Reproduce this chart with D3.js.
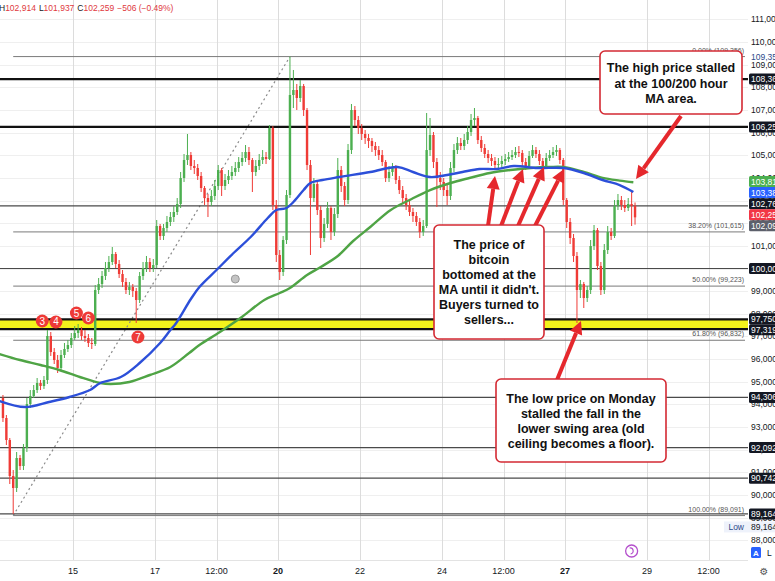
<!DOCTYPE html>
<html>
<head>
<meta charset="utf-8">
<script src="https://cdn.jsdelivr.net/npm/d3@7/dist/d3.min.js"></script>
<style>
  html, body { margin: 0; padding: 0; background: #fff; overflow: hidden; }
  svg { display: block; font-family: "Liberation Sans", Arial, sans-serif; }
</style>
</head>
<body>
<svg id="chart" width="775" height="581"></svg>
<script>
// ---------------- data: BTC/USD, 13–28 Jan 2025, 2-hour candles ----------------
const barStart = new Date(2025, 0, 13, 6);
const barHours = 2;
const firstOpen = 94282;

const closes = [
  93399, 92428, 90839, 90309, 91633, 91280, 92075, 94017, 94371, 94635,
  94945, 94812, 95077, 97020, 96313, 95960, 95607, 96181, 96446, 96622,
  96931, 97152, 97284, 97020, 96931, 96711, 96666, 99050, 99315, 99669,
  100022, 100287, 100640, 100198, 99757, 99404, 99050, 99183, 99006, 98609,
  99669, 100022, 100287, 100022, 100154, 101876, 101435, 101788, 102053, 102273,
  102494, 102847, 103995, 104790, 105011, 104525, 104437, 104084, 103554, 103112,
  102936, 103201, 103642, 104348, 103642, 103907, 104084, 104260, 104437, 104702,
  104878, 105143, 104790, 104260, 104525, 104790, 104922, 104834, 106203, 102803,
  100596, 99845, 101258, 103245, 107660, 107881, 107528, 108057, 106998, 104569,
  103112, 103730, 102582, 101346, 101964, 102671, 101611, 102406, 104348, 103642,
  103024, 105231, 106998, 106556, 106203, 105938, 105761, 105629, 105408, 105231,
  105011, 104702, 103995, 104260, 104437, 103907, 103465, 103112, 102803, 102494,
  102318, 102053, 101611, 101876, 105231, 105894, 104702, 103995, 103819, 103465,
  103201, 104437, 105231, 105541, 105408, 105673, 106026, 106556, 106644, 105673,
  105320, 105055, 104878, 104746, 104569, 104613, 104746, 104834, 104922, 105011,
  105143, 105099, 104702, 104525, 104967, 105231, 105055, 104746, 104525, 104878,
  105011, 105143, 105231, 104790, 103024, 102053, 101346, 100552, 99050, 99315,
  98697, 99050, 100993, 101699, 100110, 99050, 100816, 101611, 101435, 102759,
  103024, 102803, 102671, 102847, 102765, 102259
];
const highs = [
  94415, 93532, 92516, 91103, 91898, 91766, 92251, 94282, 94635, 94856,
  95165, 95077, 95254, 97284, 97196, 96490, 96181, 96401, 96711, 96843,
  97152, 97461, 97549, 97417, 97284, 97108, 96931, 99271, 99580, 99889,
  100287, 100552, 100949, 100728, 100375, 99933, 99580, 99404, 99315, 99139,
  99845, 100287, 100552, 100463, 100419, 102141, 101964, 101964, 102318, 102494,
  102759, 103112, 104260, 105055, 105938, 105143, 104790, 104613, 104260, 103642,
  103289, 103465, 103907, 104569, 104437, 104172, 104348, 104525, 104702, 104922,
  105143, 105452, 105364, 104878, 104790, 105055, 105231, 105143, 106335, 106291,
  103024, 100816, 101435, 103465, 109356, 108764, 108146, 108322, 108146, 107086,
  104790, 103995, 103819, 102759, 102229, 102936, 102759, 102671, 104878, 104525,
  103819, 105496, 107263, 107174, 106733, 106379, 106114, 105938, 105761, 105585,
  105408, 105231, 104790, 104525, 104658, 104569, 104084, 103642, 103289, 103024,
  102671, 102494, 102229, 102141, 106865, 106644, 106026, 104878, 104260, 103995,
  103686, 104702, 105496, 105805, 105761, 105938, 106291, 106821, 107086, 106733,
  105850, 105496, 105231, 105055, 104922, 104878, 104967, 105055, 105143, 105231,
  105364, 105408, 105231, 104878, 105187, 105452, 105364, 105231, 104878, 105099,
  105231, 105364, 105452, 105320, 104878, 103112, 102229, 101523, 100728, 99492,
  99404, 99227, 101258, 101920, 101788, 100287, 101081, 101876, 101788, 103024,
  103289, 103201, 103024, 103112, 103465, 102914
];
const lows = [
  93223, 92207, 90485, 89164, 90132, 91103, 91103, 91898, 93841, 94282,
  94503, 94635, 94680, 94900, 96137, 95783, 95386, 95518, 96048, 96313,
  96490, 96843, 96931, 96843, 96755, 96534, 96446, 96578, 98874, 99139,
  99492, 99845, 100154, 100022, 99580, 99183, 98874, 98830, 98741, 97594,
  98477, 99492, 99845, 99845, 99845, 100022, 101258, 101258, 101611, 101876,
  102053, 102362, 102671, 103819, 104569, 104348, 104172, 103907, 103377, 102803,
  102273, 102759, 103024, 103465, 103201, 103465, 103730, 103907, 104084, 104260,
  104525, 104702, 104569, 103377, 104084, 104348, 104613, 104613, 104790, 102582,
  100287, 99492, 99669, 101081, 103112, 107086, 106998, 107351, 106733, 104348,
  100596, 102936, 102362, 100905, 101170, 101788, 101258, 101435, 102229, 103377,
  102759, 102847, 105055, 106291, 105938, 105673, 105496, 105320, 105143, 104967,
  104790, 104525, 103819, 103819, 104084, 103730, 103289, 102892, 102582, 102318,
  102053, 101876, 101346, 101435, 101788, 104967, 104437, 102715, 103465, 103201,
  102803, 103024, 104260, 105055, 105231, 105231, 105496, 105850, 106291, 105496,
  105143, 104878, 104658, 104525, 104393, 104393, 104481, 104569, 104702, 104790,
  104878, 104922, 104525, 104348, 104437, 104878, 104878, 104569, 104348, 104437,
  104746, 104878, 104967, 104613, 102803, 101788, 101081, 100287, 97594, 98697,
  98256, 98521, 98874, 100816, 99933, 98830, 98874, 100640, 101258, 101346,
  102582, 102582, 102494, 102538, 101876, 101937
];

// moving averages, sampled at hours since 13 Jan 00:00
const ma100Hours = [5, 20, 34, 46, 58, 64, 76, 87, 99, 105, 108, 117, 122, 132, 142, 152, 162, 167, 173, 177,
  183, 187, 194, 204, 222, 238, 247, 257, 267, 276, 286, 296, 306, 320, 335, 347, 358, 368, 376];
const ma100 = [94150, 93885, 94106, 94326, 94635, 94945, 95209, 95827, 96711, 97284, 97549, 98653, 99183, 99933,
  100684, 101390, 102229, 102582, 102671, 102936, 103465, 103775, 103907, 104039, 104260, 104481, 104260, 104039,
  104128, 104260, 104393, 104393, 104525, 104437, 104437, 104216, 103907, 103686, 103380];
const ma200Hours = [5, 17, 29, 40, 52, 64, 70, 81, 93, 105, 116, 122, 134, 146, 160, 169, 175, 185, 193, 203,
  212, 222, 234, 245, 257, 269, 280, 292, 304, 316, 327, 335, 347, 358, 368, 376];
const ma200 = [96225, 95960, 95739, 95518, 95209, 94945, 94900, 94989, 95298, 95651, 96269, 96622, 97196, 97814,
  98609, 98918, 99139, 99713, 100066, 100552, 101214, 101832, 102582, 103024, 103465, 103775, 103995, 104216,
  104348, 104437, 104481, 104481, 104260, 104000, 103880, 103810];

const priceTicks = [88000, 89000, 90000, 91000, 92000, 93000, 94000, 95000, 96000, 97000, 98000, 99000,
  100000, 101000, 102000, 103000, 104000, 105000, 106000, 107000, 108000, 109000, 110000, 111000];
const timeTicks = [new Date(2025, 0, 15), new Date(2025, 0, 17), new Date(2025, 0, 18, 12), new Date(2025, 0, 20),
  new Date(2025, 0, 22), new Date(2025, 0, 24), new Date(2025, 0, 25, 12), new Date(2025, 0, 27),
  new Date(2025, 0, 29), new Date(2025, 0, 30, 12)];
const timeTickLabels = ["15", "17", "12:00", "20", "22", "24", "12:00", "27", "29", "12:00"];
const weekStartLabels = ["20", "27"];

const resistanceLevels = [108364, 106250];
const supportLevels = [102765, 100000, 94306, 92092, 90742, 89164];
const swingZone = [97750, 97319];
const fibLabels = ["0.00%", "38.20%", "50.00%", "61.80%", "100.00%"];
const fibPrices = [109356, 101615, 99223, 96832, 89091];
const refPrice = 102090;
const periodLow = 89164;

const touchLabels = ["3", "4", "5", "6", "7"];
const touchHours = [30, 38, 50, 57, 86];
const touchPrices = [97682, 97638, 98035, 97814, 96975];
const noteHour = 143, notePrice = 99536;
const eventHour = 375;

const callout1 = ["The high price stalled", "at the 100/200 hour", "MA area."];
const callout2 = ["The price of", "bitcoin", "bottomed at the", "MA until it didn't.", "Buyers turned to", "sellers..."];
const callout3 = ["The low price on Monday", "stalled the fall in the", "lower swing area (old", "ceiling becomes a floor)."];

// ---------------- drawing ----------------
const W = 775, H = 581, plotR = 748, plotB = 560;
const svg = d3.select("#chart");
const t0 = new Date(2025, 0, 13);
const hour = h => d3.timeHour.offset(t0, h);
const x = d3.scaleTime().domain([t0, new Date(2025, 0, 31)]).range([-9, 729]);
const y = d3.scaleLinear().domain([90000, 110000]).range([495, 42]);
const fmt = d3.format(",");
const RED = "#e5282d";

svg.append("rect").attr("width", W).attr("height", H).attr("fill", "#fff");
svg.append("defs").append("clipPath").attr("id", "plotClip")
  .append("rect").attr("width", plotR).attr("height", plotB);
const plot = svg.append("g").attr("clip-path", "url(#plotClip)");

// grid
plot.append("g").selectAll("line").data(priceTicks).join("line")
  .attr("x1", 0).attr("x2", plotR)
  .attr("y1", d => Math.round(y(d)) + 0.5).attr("y2", d => Math.round(y(d)) + 0.5)
  .attr("stroke", "#efefef");
plot.append("g").selectAll("line").data(timeTicks).join("line")
  .attr("x1", d => Math.round(x(d)) + 0.5).attr("x2", d => Math.round(x(d)) + 0.5)
  .attr("y1", 0).attr("y2", plotB)
  .attr("stroke", "#dcdcdc");

// candles
const bars = closes.map((c, i) => ({
  t: d3.timeHour.offset(barStart, i * barHours + barHours / 2),
  o: i === 0 ? firstOpen : closes[i - 1], h: highs[i], l: lows[i], c
}));
const lowBar = bars[d3.minIndex(lows)];
const highBar = bars[d3.maxIndex(highs)];

// swing zone
plot.append("rect")
  .attr("x", 0).attr("width", plotR)
  .attr("y", y(swingZone[0])).attr("height", y(swingZone[1]) - y(swingZone[0]))
  .attr("fill", "#f3f31c");

// fib retracement
const fibX1 = x(lowBar.t), fibX2 = plotR - 3;
plot.append("g").selectAll("line").data(fibPrices).join("line")
  .attr("x1", fibX1).attr("x2", fibX2)
  .attr("y1", d => y(d)).attr("y2", d => y(d))
  .attr("stroke", "#7a7a7a").attr("stroke-width", 1);
plot.append("g").selectAll("text").data(fibPrices).join("text")
  .attr("x", fibX2 - 1).attr("y", d => y(d) - 4)
  .attr("text-anchor", "end").attr("font-size", 7).attr("fill", "#555")
  .text((d, i) => `${fibLabels[i]} (${fmt(d)})`);
plot.append("line")
  .attr("x1", x(lowBar.t)).attr("y1", y(fibPrices[4]))
  .attr("x2", x(highBar.t)).attr("y2", y(fibPrices[0]))
  .attr("stroke", "#8a8a8a").attr("stroke-width", 1.2).attr("stroke-dasharray", "2,3");

// horizontal levels
plot.append("g").selectAll("line").data(supportLevels).join("line")
  .attr("x1", 0).attr("x2", plotR)
  .attr("y1", d => y(d)).attr("y2", d => y(d))
  .attr("stroke", "#4a4a4a").attr("stroke-width", 1.2);
plot.append("g").selectAll("line").data(resistanceLevels.concat(swingZone)).join("line")
  .attr("x1", 0).attr("x2", plotR)
  .attr("y1", d => y(d)).attr("y2", d => y(d))
  .attr("stroke", "#111").attr("stroke-width", 2.2);

// candles
const cg = plot.append("g");
const bodyW = 2.4;
cg.selectAll("line").data(bars).join("line")
  .attr("x1", d => x(d.t)).attr("x2", d => x(d.t))
  .attr("y1", d => y(d.h)).attr("y2", d => y(d.l))
  .attr("stroke", d => d.c >= d.o ? "#4caf50" : "#ef3b36").attr("stroke-width", 1);
cg.selectAll("rect").data(bars).join("rect")
  .attr("x", d => x(d.t) - bodyW / 2).attr("width", bodyW)
  .attr("y", d => y(Math.max(d.o, d.c)))
  .attr("height", d => Math.max(1, Math.abs(y(d.o) - y(d.c))))
  .attr("fill", d => d.c >= d.o ? "#4caf50" : "#ef3b36");

// moving averages
const maLine = d3.line().x(d => x(hour(d[0]))).y(d => y(d[1])).curve(d3.curveCatmullRom);
plot.append("path").datum(d3.zip(ma200Hours, ma200)).attr("d", maLine)
  .attr("fill", "none").attr("stroke", "#4fa445").attr("stroke-width", 2.4);
plot.append("path").datum(d3.zip(ma100Hours, ma100)).attr("d", maLine)
  .attr("fill", "none").attr("stroke", "#2c4fd9").attr("stroke-width", 2.4);

// numbered touches of the swing area
const mg = plot.append("g").selectAll("g").data(touchLabels).join("g")
  .attr("transform", (d, i) => `translate(${x(hour(touchHours[i]))},${y(touchPrices[i])})`);
mg.append("circle").attr("r", 6.5).attr("fill", "#ee3a37");
mg.append("text").attr("y", 3.5).attr("text-anchor", "middle").attr("font-size", 10)
  .attr("fill", "#fff").text(d => d);

// note marker
plot.append("circle").attr("cx", x(hour(noteHour))).attr("cy", y(notePrice)).attr("r", 4)
  .attr("fill", "#c4c4c4").attr("stroke", "#9a9a9a").attr("stroke-width", 1);

// bottom border of price pane
svg.append("line").attr("x1", 0).attr("x2", plotR).attr("y1", plotB + 0.5).attr("y2", plotB + 0.5)
  .attr("stroke", "#e3e3e3");

// event icon on time axis
const ev = svg.append("g").attr("transform", `translate(${x(hour(eventHour))},551)`);
ev.append("circle").attr("r", 6).attr("fill", "#fff").attr("stroke", "#b44fcc").attr("stroke-width", 1.3);
ev.append("path").attr("d", "M-2,-3 A3,3 0 1,1 -1,3").attr("fill", "none").attr("stroke", "#b44fcc").attr("stroke-width", 1.2);

// arrows and callouts
function arrow(x1, y1, x2, y2) {
  const a = Math.atan2(y2 - y1, x2 - x1), L = 13, hw = 6.5;
  const bx = x2 - L * Math.cos(a), by = y2 - L * Math.sin(a);
  svg.append("line").attr("x1", x1).attr("y1", y1).attr("x2", bx).attr("y2", by)
    .attr("stroke", RED).attr("stroke-width", 4);
  svg.append("path").attr("d", `M${x2},${y2} L${bx + hw * Math.sin(a)},${by - hw * Math.cos(a)} L${bx - hw * Math.sin(a)},${by + hw * Math.cos(a)} Z`)
    .attr("fill", RED);
}
arrow(681, 116, 636, 179);
arrow(488, 226, 495, 176);
arrow(501, 226, 523, 169);
arrow(518, 226, 544, 167);
arrow(535, 226, 564, 169);
arrow(557, 380, 581, 321);

function callout(bx, by, bw, bh, lines, firstBase, step) {
  svg.append("rect").attr("x", bx).attr("y", by).attr("width", bw).attr("height", bh).attr("rx", 5)
    .attr("fill", "#fff").attr("stroke", "#d42a33").attr("stroke-width", 1.6);
  svg.append("g").selectAll("text").data(lines).join("text")
    .attr("x", bx + bw / 2).attr("y", (d, i) => firstBase + i * step)
    .attr("text-anchor", "middle").attr("font-size", 12.5).attr("font-weight", "bold").attr("fill", "#111")
    .text(d => d);
}
callout(600, 51, 142, 63, callout1, 72, 15.5);
callout(434, 225, 110, 114, callout2, 249, 15);
callout(496, 379, 170, 83, callout3, 403, 15);

// header
const lastBar = bars[bars.length - 1];
const chg = lastBar.c - lastBar.o;
const head = svg.append("text").attr("x", -1).attr("y", 11).attr("font-size", 8.5).attr("fill", "#131722");
head.append("tspan").text("H");
head.append("tspan").attr("fill", "#e0393e").text(fmt(lastBar.h));
head.append("tspan").attr("dx", 3).text("L");
head.append("tspan").attr("fill", "#e0393e").text(fmt(lastBar.l));
head.append("tspan").attr("dx", 3).text("C");
head.append("tspan").attr("fill", "#e0393e").text(fmt(lastBar.c));
head.append("tspan").attr("dx", 3).attr("fill", "#e0393e")
  .text(`${d3.format("+")(chg).replace("-", "\u2212")} (${(chg / lastBar.o * 100).toFixed(2).replace("-", "\u2212")}%)`);

// time axis
svg.append("g").selectAll("text").data(timeTicks).join("text")
  .attr("x", d => x(d)).attr("y", 574).attr("text-anchor", "middle").attr("font-size", 9)
  .attr("fill", "#131722")
  .attr("font-weight", (d, i) => weekStartLabels.includes(timeTickLabels[i]) ? "bold" : "normal")
  .text((d, i) => timeTickLabels[i]);

// price axis
svg.append("g").selectAll("text").data(priceTicks).join("text")
  .attr("x", 751).attr("y", d => y(d) + 3).attr("font-size", 8.5).attr("fill", "#131722")
  .text(d => fmt(d));

// price tags, spread apart where they collide
const tags = [
  { p: ma200[ma200.length - 1], fill: "#4caf50" },
  { p: ma100[ma100.length - 1], fill: "#2962ff" },
  { p: lastBar.o, fill: "#131722" },
  { p: lastBar.c, fill: "#f23645" },
  { p: refPrice, fill: "#5d606b" },
  { p: resistanceLevels[0], fill: "#131722" },
  { p: resistanceLevels[1], fill: "#131722" },
  { p: supportLevels[1], fill: "#131722" },
  { p: swingZone[0], fill: "#131722" },
  { p: swingZone[1], fill: "#131722" },
  { p: supportLevels[2], fill: "#131722" },
  { p: supportLevels[3], fill: "#131722" },
  { p: supportLevels[4], fill: "#131722" },
  { p: supportLevels[5], fill: "#131722" }
];
const tagH = 11;
tags.forEach(t => t.y0 = y(t.p));
tags.sort((a, b) => a.y0 - b.y0);
let groups = tags.map(t => ({ items: [t], c: t.y0 }));
let merged = true;
while (merged) {
  merged = false;
  for (let i = 0; i < groups.length - 1; i++) {
    const a = groups[i], b = groups[i + 1];
    if (a.c + a.items.length * tagH / 2 > b.c - b.items.length * tagH / 2) {
      const items = a.items.concat(b.items);
      groups.splice(i, 2, { items, c: d3.mean(items, d => d.y0) });
      merged = true;
      break;
    }
  }
}
groups.forEach(g => {
  const top = g.c - g.items.length * tagH / 2;
  g.items.forEach((t, k) => t.y = top + k * tagH + tagH / 2);
});
const tg = svg.append("g").selectAll("g").data(tags).join("g")
  .attr("transform", d => `translate(749,${d.y})`);
tg.append("rect").attr("x", 0).attr("y", -tagH / 2).attr("width", 30).attr("height", tagH)
  .attr("rx", 1.5).attr("fill", d => d.fill);
tg.append("text").attr("x", 2).attr("y", 3).attr("font-size", 8.5).attr("fill", "#fff")
  .text(d => fmt(d.p));

// period high (text only) and period low tag
svg.append("rect").attr("x", 749).attr("y", y(fibPrices[0]) - 5).attr("width", 30).attr("height", 10).attr("fill", "#fff");
svg.append("text").attr("x", 751).attr("y", y(fibPrices[0]) + 3).attr("font-size", 8.5)
  .attr("fill", "#2d4a8a").text(fmt(fibPrices[0]));
const lowY = y(periodLow) + 13;
svg.append("rect").attr("x", 724).attr("y", lowY - 5.5).attr("width", 51).attr("height", 11).attr("fill", "#eef2fb");
svg.append("text").attr("x", 744).attr("y", lowY + 3).attr("text-anchor", "end").attr("font-size", 8.5)
  .attr("fill", "#2d4a8a").text("Low");
svg.append("text").attr("x", 751).attr("y", lowY + 3).attr("font-size", 8.5)
  .attr("fill", "#131722").text(fmt(periodLow));

// scale buttons
svg.append("rect").attr("x", 751).attr("y", 547).attr("width", 10).attr("height", 11).attr("rx", 1.5).attr("fill", "#2962ff");
svg.append("text").attr("x", 756).attr("y", 555.5).attr("text-anchor", "middle").attr("font-size", 8)
  .attr("font-weight", "bold").attr("fill", "#fff").text("A");
svg.append("text").attr("x", 767).attr("y", 556).attr("font-size", 8.5).attr("fill", "#131722").text("L");
svg.append("text").attr("x", 764).attr("y", 575).attr("text-anchor", "middle")
  .attr("font-family", "DejaVu Sans").attr("font-size", 10).attr("fill", "#555").text("\u2699");
</script>
</body>
</html>
